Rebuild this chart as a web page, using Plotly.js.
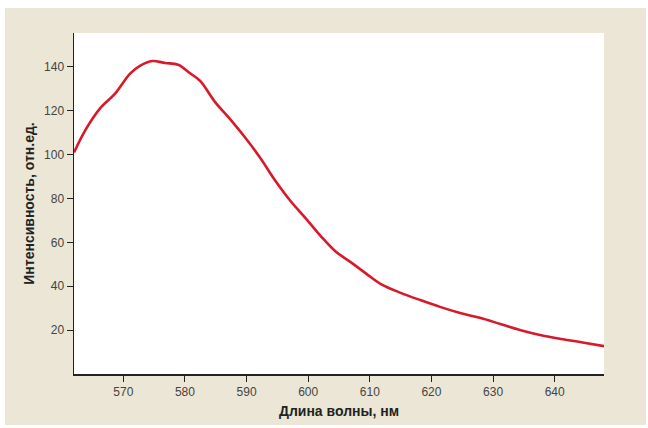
<!DOCTYPE html>
<html>
<head>
<meta charset="utf-8">
<script src="https://cdn.plot.ly/plotly-3.0.1.min.js"></script>
<style>
body{margin:0;background:#fff}
#bg{position:absolute;left:5px;top:8px;width:641px;height:417px;background:#ebe6d6}
#graph_area{position:absolute;left:0;top:0;width:648px;height:428px}
</style>
</head>
<body>
<div id="bg"></div>
<div id="graph_area"></div>
<script>
// длина волны, нм
const wavelength = [562, 563.8, 566.2, 568.7, 571.1, 572.7, 574.7, 576.8, 578.9, 580.9, 582.5, 584.9, 587.4, 589.8, 592.2, 594.7, 597.1, 599.6, 602, 604.4, 606.9, 609.3, 611.8, 615, 618.3, 621.5, 624.8, 628, 631.3, 634.5, 637.8, 641, 644.3, 648];
// интенсивность, отн.ед.
const intensity = [101, 111, 121, 128, 137, 140.5, 142.7, 141.8, 141, 137, 133.6, 124, 116, 107.7, 98.6, 88, 79, 71, 63, 56, 51, 46, 41, 37, 33.6, 30.5, 27.7, 25.5, 22.7, 20, 17.7, 16, 14.5, 12.7];

const font = "'Liberation Sans Narrow', 'Liberation Sans', Arial, sans-serif";

Plotly.newPlot("graph_area", [{
    x: wavelength,
    y: intensity,
    mode: "lines",
    type: "scatter",
    line: {color: "#d7192a", width: 2.6, shape: "spline"},
    hoverinfo: "none"
}], {
    width: 648, height: 428,
    margin: {l: 74, r: 44, t: 33, b: 54},
    paper_bgcolor: "rgba(0,0,0,0)",
    plot_bgcolor: "#ffffff",
    showlegend: false,
    font: {family: font, color: "#444", size: 12},
    xaxis: {
        range: [562, 648], tickvals: [570, 580, 590, 600, 610, 620, 630, 640],
        showgrid: false, zeroline: false, showline: true, linecolor: "#222", linewidth: 1.5,
        ticks: "outside", ticklen: 6, tickcolor: "#222",
        title: {text: "<b>Длина волны, нм</b>", font: {family: font, size: 14, color: "#222"}, standoff: 8}
    },
    yaxis: {
        range: [0, 155.5], tickvals: [20, 40, 60, 80, 100, 120, 140],
        showgrid: false, zeroline: false, showline: true, linecolor: "#222", linewidth: 1.5,
        ticks: "outside", ticklen: 6, tickcolor: "#222",
        title: {text: "<b>Интенсивность, отн.ед.</b>", font: {family: font, size: 14, color: "#222"}, standoff: 6}
    }
}, {staticPlot: true});
</script>
</body>
</html>
